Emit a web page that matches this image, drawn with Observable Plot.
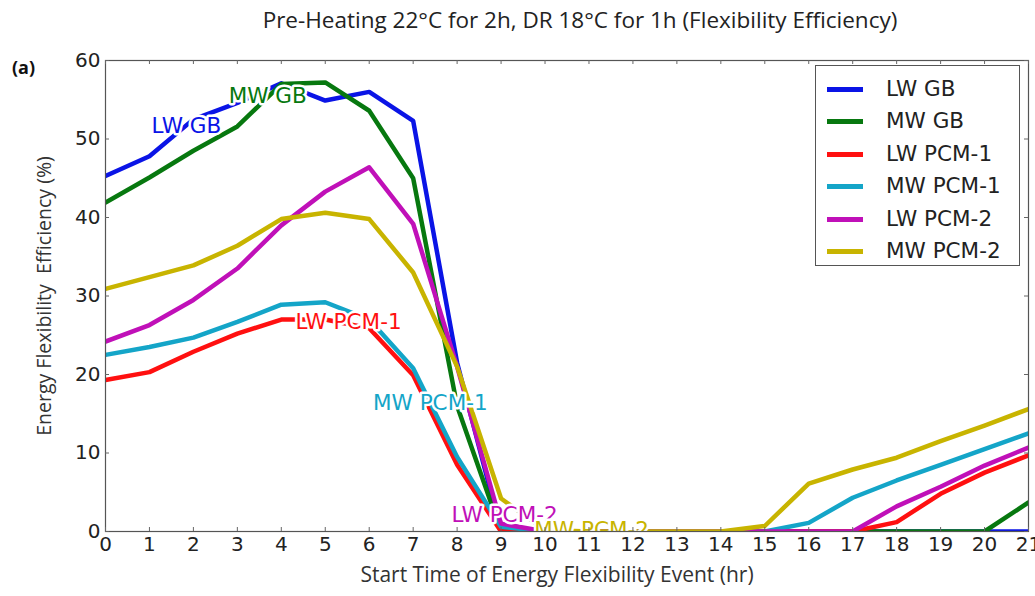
<!DOCTYPE html>
<html>
<head>
<meta charset="utf-8">
<script src="https://cdn.jsdelivr.net/npm/d3@7"></script>
<script src="https://cdn.jsdelivr.net/npm/@observablehq/plot@0.6"></script>
<style>
  html, body { margin: 0; padding: 0; background: #fff; }
  #fig { position: relative; width: 1035px; height: 596px; overflow: hidden; }
  #title { position: absolute; left: 0; top: 0; width: 1035px; height: 40px; text-align: center;
           font-family: "Open Sans", sans-serif; font-size: 22.5px; line-height: 40px; color: #222; padding-left: 125px; box-sizing: border-box; }
  #chart { position: absolute; left: 0; top: 40px; }
  #tag { position: absolute; left: 12px; top: 55px; font-family: "Open Sans", sans-serif; font-weight: bold; font-size: 18px; color: #111; }
  #legend { position: absolute; left: 815px; top: 65px; width: 205px; height: 201px; border: 1px solid #555; background: #fff; box-sizing: border-box; }
  .item { position: absolute; left: 0; height: 30px; width: 200px; }
  .sw { position: absolute; left: 11px; top: 13px; width: 36px; height: 5px; }
  .lb { position: absolute; left: 70px; top: 0; font-family: "DejaVu Sans", sans-serif; font-size: 21.5px; line-height: 30px; color: #222; }
</style>
</head>
<body>
<div id="fig">
  <div id="title">Pre-Heating 22°C for 2h, DR 18°C for 1h (Flexibility Efficiency)</div>
  <div id="chart"></div>
  <div id="tag">(a)</div>
  <div id="legend"></div>
</div>
<script>
// ---- data ----
const hours = [0,1,2,3,4,5,6,7,8,9,10,11,12,13,14,15,16,17,18,19,20,21];
const seriesNames = ["LW GB","MW GB","LW PCM-1","MW PCM-1","LW PCM-2","MW PCM-2"];
const seriesColors = ["#0a14e6","#07780f","#ff1010","#14a5c8","#c010b8","#c8b400"];
const lwGB   = [45.3,47.8,52.5,54.6,57.1,54.9,56.0,52.3,21.5,0,0,0,0,0,0,0,0,0,0,0,0,0];
const mwGB   = [41.9,45.1,48.5,51.6,57.0,57.2,53.6,45.0,16.0,0,0,0,0,0,0,0,0,0,0,0,0,3.7];
const lwPCM1 = [19.3,20.3,22.9,25.2,27.0,27.0,25.9,19.9,8.5,0,0,0,0,0,0,0,0,0,1.2,4.8,7.5,9.7];
const mwPCM1 = [22.5,23.5,24.7,26.7,28.9,29.2,27.0,20.8,9.5,0.6,0,0,0,0,0,0,1.1,4.3,6.5,8.5,10.5,12.5];
const lwPCM2 = [24.2,26.3,29.5,33.5,39.0,43.3,46.4,39.2,21.0,1.0,0,0,0,0,0,0,0,0,3.2,5.7,8.4,10.7];
const mwPCM2 = [30.9,32.4,33.9,36.4,39.8,40.6,39.8,33.0,21.0,4.2,0.2,0,0,0,0,0.7,6.1,7.9,9.4,11.5,13.5,15.6];
const xTicks = d3.range(0, 22);
const yTicks = [0,10,20,30,40,50,60];
// inline label anchors (data coordinates)
const labelX = [1.84, 3.69, 5.53, 7.39, 9.08, 11.06];
const labelY = [51.7, 55.5, 26.7, 16.4, 2.1, 0.2];
const xLabel = "Start Time of Energy Flexibility Event (hr)";
const yLabel = "Energy Flexibility  Efficiency (%)";

const allSeries = [lwGB, mwGB, lwPCM1, mwPCM1, lwPCM2, mwPCM2];
const rows = [];
seriesNames.forEach((name, i) => hours.forEach((h, j) => rows.push({series: name, hour: h, value: allSeries[i][j]})));
const labels = seriesNames.map((name, i) => ({series: name, x: labelX[i], y: labelY[i]}));

const W = 1035, H = 556;
const mL = 105, mR = 7, mT = 20, mB = 65;
const pw = W - mL - mR, ph = H - mT - mB;
const colorOf = Object.fromEntries(seriesNames.map((n, i) => [n, seriesColors[i]]));

const chart = Plot.plot({
  width: W, height: H,
  marginLeft: mL, marginRight: mR, marginTop: mT, marginBottom: mB,
  style: {fontFamily: "DejaVu Sans, sans-serif", background: "#fff", color: "#222"},
  x: {domain: [0, 21]},
  y: {domain: [0, 60]},
  color: {domain: seriesNames, range: seriesColors},
  marks: [
    Plot.line(rows, {x: "hour", y: "value", z: "series", stroke: "series", strokeWidth: 4.5, clip: true, strokeLinejoin: "round"}),
    Plot.text(labels, {x: "x", y: "y", text: "series", fill: d => colorOf[d.series], stroke: "white", strokeWidth: 5, paintOrder: "stroke",
      fontSize: 21.5, fontFamily: "DejaVu Sans, sans-serif", clip: true}),
    Plot.frame({stroke: "#555", strokeWidth: 1.2}),
    Plot.tickX(xTicks, {x: d => d, insetTop: ph - 4, stroke: "#666"}),
    Plot.tickX(xTicks, {x: d => d, insetBottom: ph - 4, stroke: "#666"}),
    Plot.tickY(yTicks, {y: d => d, insetRight: pw - 4, stroke: "#666"}),
    Plot.tickY(yTicks, {y: d => d, insetLeft: pw - 4, stroke: "#666"}),
    Plot.axisX(xTicks, {tickSize: 0, tickPadding: 5, fontSize: 20, label: null}),
    Plot.axisY(yTicks, {tickSize: 0, tickPadding: 5, fontSize: 20, label: null}),
    Plot.text([xLabel], {text: d => d, frameAnchor: "bottom", dy: 50, dx: -10, fontSize: 21, fontFamily: "Open Sans, sans-serif", fill: "#333"}),
    Plot.text([yLabel], {text: d => d, frameAnchor: "left", textAnchor: "middle", dx: -61, rotate: -90, fontSize: 19.5, fontFamily: "Open Sans, sans-serif", fill: "#333"})
  ]
});
document.getElementById("chart").appendChild(chart);

const legend = document.getElementById("legend");
seriesNames.forEach((name, i) => {
  const item = document.createElement("div");
  item.className = "item";
  item.style.top = (8 + i * 32.4) + "px";
  item.innerHTML = `<div class="sw" style="background:${seriesColors[i]}"></div><div class="lb">${name}</div>`;
  legend.appendChild(item);
});
</script>
</body>
</html>
